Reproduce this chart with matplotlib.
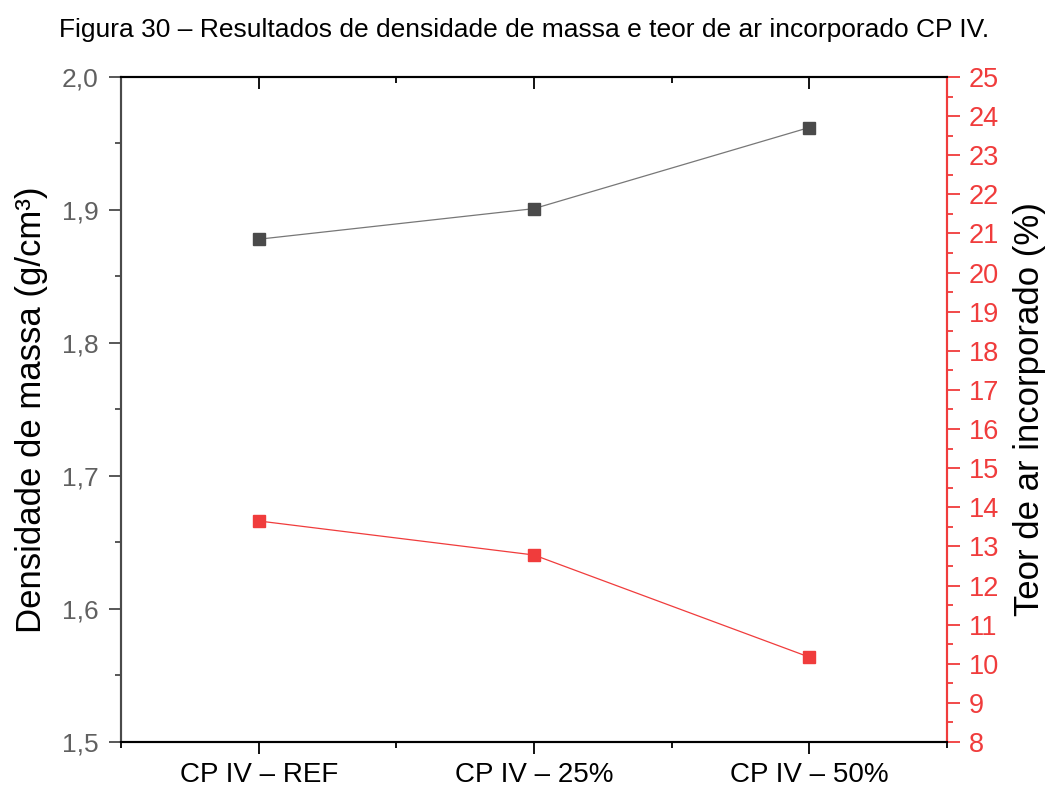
import matplotlib.pyplot as plt
from matplotlib.ticker import MultipleLocator, FixedLocator, FuncFormatter

plt.rcParams['font.family'] = ['Liberation Sans', 'DejaVu Sans']

categorias = ['CP IV – REF', 'CP IV – 25%', 'CP IV – 50%']
densidade = [1.878, 1.901, 1.962]
teor_ar = [13.65, 12.78, 10.17]

cinza = '#4a4a4a'
vermelho = '#f03c3c'

fig = plt.figure(figsize=(10.48, 7.87), dpi=100)
ax = fig.add_axes([0.1155, 0.0572, 0.788, 0.845])
ax2 = ax.twinx()

x = list(range(1, len(categorias) + 1))
ax.plot(x, densidade, color='#777777', lw=0.9, zorder=2)
ax.plot(x, densidade, ls='none', marker='s', ms=9, color=cinza, zorder=3)
ax2.plot(x, teor_ar, color=vermelho, lw=0.9, zorder=2)
ax2.plot(x, teor_ar, ls='none', marker='s', ms=9, color=vermelho, zorder=3)

ax.set_xlim(0.5, 3.5)
ax.set_ylim(1.5, 2.0)
ax2.set_ylim(8, 25)

ax.set_xticks(x)
ax.set_xticklabels(categorias, fontsize=20)
ax.xaxis.set_minor_locator(FixedLocator([0.5, 1.5, 2.5, 3.5]))
ax.yaxis.set_major_locator(MultipleLocator(0.1))
ax.yaxis.set_minor_locator(MultipleLocator(0.05))
ax.yaxis.set_major_formatter(FuncFormatter(lambda v, p: f'{v:.1f}'.replace('.', ',')))
ax2.yaxis.set_major_locator(MultipleLocator(1))
ax2.yaxis.set_minor_locator(MultipleLocator(0.5))

ax.tick_params(axis='x', which='both', direction='out', top=True, labeltop=False,
               width=1.3, color='black', pad=6)
ax.tick_params(axis='x', which='major', length=8.5)
ax.tick_params(axis='x', which='minor', length=4)
ax.tick_params(axis='y', which='both', direction='out', width=1.3, color=cinza,
               labelcolor='#606060', labelsize=19, pad=7)
ax.tick_params(axis='y', which='major', length=9)
ax.tick_params(axis='y', which='minor', length=4.5)
ax2.tick_params(axis='y', which='both', direction='out', width=1.3, color=vermelho,
                labelcolor=vermelho, labelsize=19.5, pad=7)
ax2.tick_params(axis='y', which='major', length=9)
ax2.tick_params(axis='y', which='minor', length=4.5)

# top ticks point inward, bottom ones outward
for t in ax.xaxis.get_major_ticks() + ax.xaxis.get_minor_ticks():
    t.tick2line.set_marker(3)

for a in (ax, ax2):
    a.spines['top'].set_color('black')
    a.spines['bottom'].set_color('black')
    a.spines['left'].set_color(cinza)
    a.spines['right'].set_color(vermelho)
    for s in a.spines.values():
        s.set_linewidth(1.5)

ax.set_ylabel('Densidade de massa (g/cm³)', fontsize=25, labelpad=10)
ax2.set_ylabel('Teor de ar incorporado (%)', fontsize=25, labelpad=10)

fig.text(0.5, 0.962, 'Figura 30 – Resultados de densidade de massa e teor de ar incorporado CP IV.',
         ha='center', va='center', fontsize=19)

fig.savefig('out.png', dpi=100)
